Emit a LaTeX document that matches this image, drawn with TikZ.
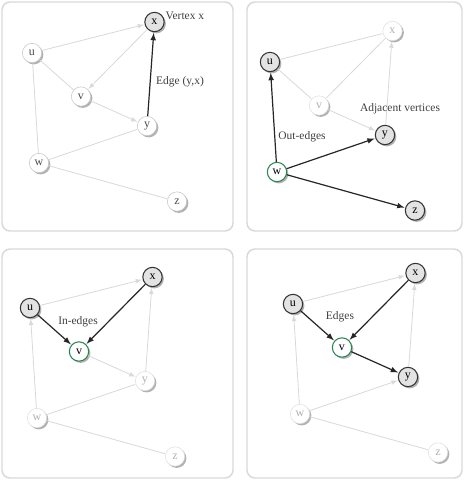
\documentclass[tikz,border=0pt]{standalone}
\usepackage{fontspec}
\setmainfont{Liberation Serif}
\usepackage{tikz}
\usetikzlibrary{arrows,shadows}
\usetikzlibrary{positioning}
\definecolor{ringgreen}{RGB}{40,135,80}
\tikzset{
    plain/.style={
           circle,
           draw=gray!45, thin,
           fill=white,
           text=black!70,
           minimum size=14.5pt,
           inner sep=0pt,
           font=\fontsize{9}{10}\selectfont,
           drop shadow={shadow xshift=1.3pt,shadow yshift=-1.3pt,opacity=0.6},
           },
}
\tikzset{
    faded/.style={
           plain,
           draw=gray!25,
           text=gray!60,
           },
}
\tikzset{
    hit/.style={
           plain,
           draw=black!80, thick,
           fill=gray!22,
           text=black,
           },
}
\tikzset{
    focus/.style={
           plain,
           draw=ringgreen, thick,
           text=black,
           },
}
\tikzset{
    panel/.style={draw=gray!30, line width=1.1pt, rounded corners=6pt, fill=white},
    dim/.style={draw=gray!30, line width=0.6pt, -latex, shorten >=0.5pt},
    bold/.style={draw=black!85, line width=0.9pt, -latex, shorten >=0.5pt},
    note/.style={text=black!75, inner sep=1pt},
}

\begin{document}
\begin{tikzpicture}[x=0.75pt,y=-0.75pt,font=\fontsize{8.6}{10}\selectfont]
\useasboundingbox (0,0) rectangle (465,480);
\draw[panel] (2,2) rectangle (233,231);
\draw[panel] (247,2) rectangle (462,231);
\draw[panel] (2,249) rectangle (233,478);
\draw[panel] (247,249) rectangle (462,478);

% vertex
\begin{scope}[shift={(32,53)}]
\node[plain](u1) at (0,0){u};
\node[hit](x1) at (122.5,-31){x};
\node[plain](v1) at (49,43.5){v};
\node[plain](y1) at (115,73){y};
\node[plain](w1) at (7,110){w};
\node[plain](z1) at (145,148.5){z};
\draw[dim] (u1) -- (x1);
\draw[dim] (x1) -- (v1);
\draw[dim,-] (u1) -- (v1);
\draw[dim] (v1) -- (y1);
\draw[dim,-] (w1) -- (u1);
\draw[dim,-] (w1) -- (y1);
\draw[dim,-] (w1) -- (z1);
\draw[bold] (y1) -- (x1);
\node[note,anchor=west](l1) at (132,-37){Vertex x};
\node[note](l2) at (148,29){Edge (y,x)};
\end{scope}

% out-edges
\begin{scope}[shift={(270,62)}]
\node[hit](u2) at (0,0){u};
\node[faded](x2) at (122.5,-31){x};
\node[faded](v2) at (49,43.5){v};
\node[hit](y2) at (115,73){y};
\node[focus](w2) at (7,110){w};
\node[hit](z2) at (145,148.5){z};
\draw[dim,-] (u2) -- (x2);
\draw[dim,-] (x2) -- (v2);
\draw[dim,-] (u2) -- (v2);
\draw[dim] (v2) -- (y2);
\draw[dim] (y2) -- (x2);
\draw[bold] (w2) -- (u2);
\draw[bold] (w2) -- (y2);
\draw[bold] (w2) -- (z2);
\node[note](l3) at (130,47){Adjacent vertices};
\node[note](l4) at (32,75){Out-edges};
\end{scope}

% in-edges
\begin{scope}[shift={(30,308)}]
\node[hit](u3) at (0,0){u};
\node[hit](x3) at (122.5,-31){x};
\node[focus](v3) at (49,43.5){v};
\node[faded](y3) at (115,73){y};
\node[faded](w3) at (7,110){w};
\node[faded](z3) at (145,148.5){z};
\draw[dim] (u3) -- (x3);
\draw[dim] (v3) -- (y3);
\draw[dim] (y3) -- (x3);
\draw[dim] (w3) -- (u3);
\draw[dim,-] (w3) -- (y3);
\draw[dim,-] (w3) -- (z3);
\draw[bold] (u3) -- (v3);
\draw[bold] (x3) -- (v3);
\node[note](l5) at (48,14){In-edges};
\end{scope}

% edges
\begin{scope}[shift={(293,304)}]
\node[hit](u4) at (0,0){u};
\node[hit](x4) at (122.5,-31){x};
\node[focus](v4) at (49,43.5){v};
\node[hit](y4) at (115,73){y};
\node[faded](w4) at (7,110){w};
\node[faded](z4) at (145,148.5){z};
\draw[dim] (u4) -- (x4);
\draw[dim] (y4) -- (x4);
\draw[dim] (w4) -- (u4);
\draw[dim] (w4) -- (y4);
\draw[dim,-] (w4) -- (z4);
\draw[bold] (u4) -- (v4);
\draw[bold] (x4) -- (v4);
\draw[bold] (v4) -- (y4);
\node[note](l6) at (47,13){Edges};
\end{scope}
\end{tikzpicture}
\end{document}
